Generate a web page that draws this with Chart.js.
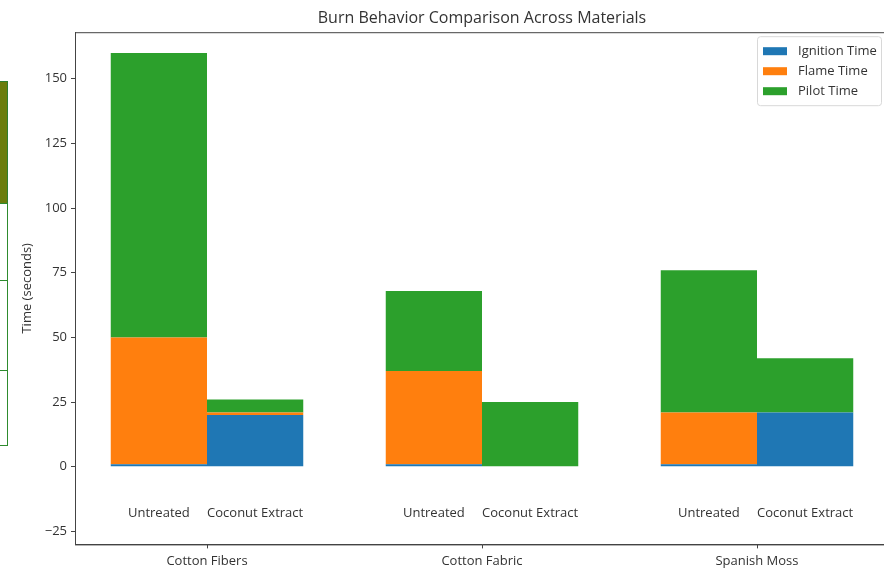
<!DOCTYPE html>
<html>
<head>
<meta charset="utf-8">
<script src="https://cdn.jsdelivr.net/npm/chart.js@4.4.1/dist/chart.umd.min.js"></script>
<style>
    html, body { margin: 0; padding: 0; background: #fff; overflow: hidden; }
    #wrap { position: relative; width: 884px; height: 570px; overflow: hidden; }
    #burnChart { position: absolute; left: 0; top: 0; }
    /* 왼쪽 가장자리에 잘려 보이는 표 조각 */
    .sideCell { position: absolute; left: -2px; width: 10px; border: 1px solid #2e8b2e; box-sizing: border-box; }
</style>
</head>
<body>
<div id="wrap">
    <canvas id="burnChart" width="900" height="574"></canvas>
    <div class="sideCell" style="top:81px; height:123px; background:#6b7d0c; border-color:#2f7f2f;"></div>
    <div class="sideCell" style="top:203px; height:78px;"></div>
    <div class="sideCell" style="top:280px; height:91px;"></div>
    <div class="sideCell" style="top:370px; height:76px;"></div>
</div>
<script>
// 데이터
const materials = ['Cotton Fibers', 'Cotton Fabric', 'Spanish Moss'];
const treatments = ['Untreated', 'Coconut Extract'];
const seriesNames = ['Ignition Time', 'Flame Time', 'Pilot Time'];
const seriesColors = ['#1f77b4', '#ff7f0e', '#2ca02c'];

const ignitionUntreated = [1, 1, 1];
const flameUntreated = [49, 36, 20];
const pilotUntreated = [110, 31, 55];

const ignitionCoconut = [20, 0, 21];
const flameCoconut = [1, 0, 0];
const pilotCoconut = [5, 25, 21];

const yTicks = [-25, 0, 25, 50, 75, 100, 125, 150];
const labelLevel = -18; // 처리 라벨 위치 (y값)

const FONT = "'Open Sans', 'Noto Sans', sans-serif";
const TEXT = '#333';

var untreatedSets = [ignitionUntreated, flameUntreated, pilotUntreated];
var coconutSets = [ignitionCoconut, flameCoconut, pilotCoconut];

function toPoints(arr) {
    return arr.map(function (v, i) { return { x: i, y: v }; });
}

var datasets = [];
for (var i = 0; i < 3; i++) {
    datasets.push({ label: seriesNames[i], data: toPoints(untreatedSets[i]), backgroundColor: seriesColors[i], stack: 'u' });
    datasets.push({ label: seriesNames[i], data: toPoints(coconutSets[i]), backgroundColor: seriesColors[i], stack: 'c' });
}

// 테두리 + 처리 라벨 + 범례
const extrasPlugin = {
    id: 'extras',
    afterDatasetsDraw(chart) {
        const ctx = chart.ctx;
        const a = chart.chartArea;
        const y = chart.scales.y;

        ctx.save();
        ctx.strokeStyle = '#444';
        ctx.lineWidth = 1;
        ctx.strokeRect(a.left + 0.5, a.top + 0.5, a.right - a.left, a.bottom - a.top);

        // Untreated / Coconut Extract
        ctx.font = '13px ' + FONT;
        ctx.fillStyle = TEXT;
        ctx.textAlign = 'center';
        ctx.textBaseline = 'middle';
        [0, 1].forEach(function (k) {
            chart.getDatasetMeta(k).data.forEach(function (bar) {
                ctx.fillText(treatments[k], bar.x, y.getPixelForValue(labelLevel));
            });
        });

        // 범례
        const bw = 124, bh = 69;
        const bx = a.right - 8 - bw, by = a.top + 4;
        ctx.fillStyle = 'rgba(255,255,255,0.8)';
        ctx.strokeStyle = '#d8d8d8';
        ctx.beginPath();
        ctx.roundRect(bx + 0.5, by + 0.5, bw, bh, 3);
        ctx.fill();
        ctx.stroke();
        ctx.textAlign = 'left';
        for (var i = 0; i < 3; i++) {
            var ry = by + 15 + i * 20;
            ctx.fillStyle = seriesColors[i];
            ctx.fillRect(bx + 6, ry - 4, 24, 8);
            ctx.fillStyle = TEXT;
            ctx.fillText(seriesNames[i], bx + 41, ry);
        }
        ctx.restore();
    }
};

var ctx = document.getElementById('burnChart').getContext('2d');
var burnChart = new Chart(ctx, {
    type: 'bar',
    data: { datasets: datasets },
    plugins: [extrasPlugin],
    options: {
        responsive: false,
        animation: false,
        layout: { padding: { left: 19, right: 11, top: 0, bottom: 0 } },
        datasets: { bar: { categoryPercentage: 0.7, barPercentage: 1.0, borderWidth: 0 } },
        plugins: {
            legend: { display: false },
            tooltip: { enabled: false },
            title: {
                display: true,
                fullSize: false,
                text: 'Burn Behavior Comparison Across Materials',
                color: TEXT,
                font: { family: FONT, size: 16, weight: 'normal' },
                padding: { top: 9, bottom: 4 }
            }
        },
        scales: {
            x: {
                type: 'linear',
                stacked: true,
                offset: false,
                min: -0.48,
                max: 2.48,
                afterBuildTicks: function (axis) {
                    axis.ticks = materials.map(function (m, i) { return { value: i }; });
                },
                grid: { display: true, offset: false, drawOnChartArea: false, tickLength: 4, color: '#444' },
                border: { display: true, color: '#444' },
                ticks: {
                    color: TEXT,
                    font: { family: FONT, size: 13 },
                    padding: 5,
                    callback: function (v) { return materials[v]; }
                }
            },
            y: {
                stacked: true,
                min: -30,
                max: 168,
                afterBuildTicks: function (axis) {
                    axis.ticks = yTicks.map(function (v) { return { value: v }; });
                },
                afterFit: function (axis) { axis.width = 56; },
                grid: { display: true, drawOnChartArea: false, tickLength: 4, color: '#444' },
                border: { display: true, color: '#444' },
                ticks: {
                    color: TEXT,
                    font: { family: FONT, size: 13 },
                    padding: 4,
                    callback: function (v) { return String(v).replace('-', '\u2212'); }
                },
                title: {
                    display: true,
                    text: 'Time (seconds)',
                    color: TEXT,
                    font: { family: FONT, size: 13 },
                    padding: { top: 0, bottom: 0 }
                }
            }
        }
    }
});
</script>
</body>
</html>
